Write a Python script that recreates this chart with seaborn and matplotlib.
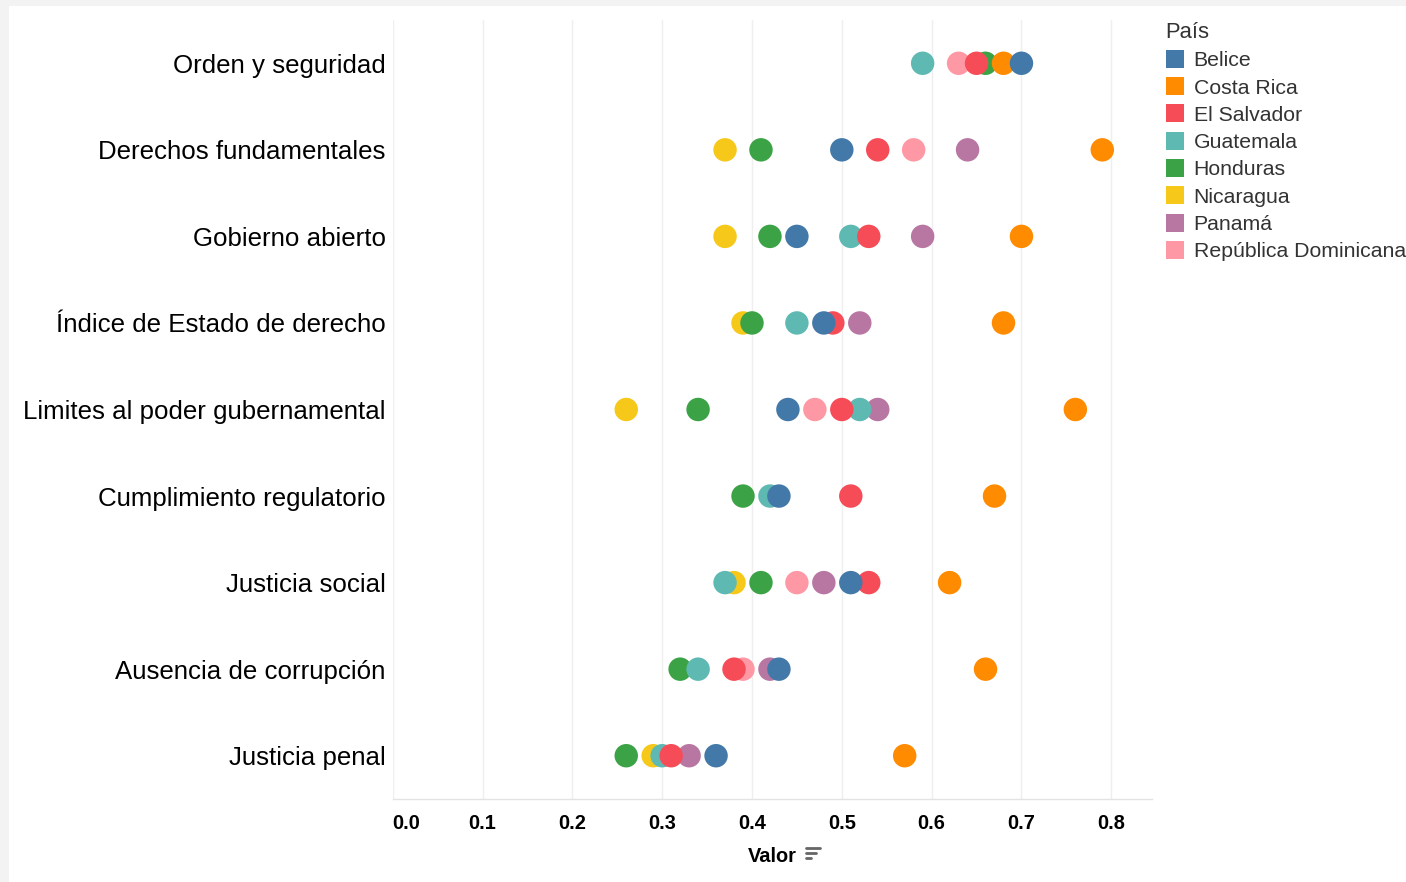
import pandas as pd
import numpy as np
import seaborn as sns
import matplotlib
matplotlib.use("Agg")
import matplotlib.pyplot as plt
from matplotlib.lines import Line2D
from matplotlib.patches import Rectangle

# categories, top to bottom
categorias = [
    "Orden y seguridad",
    "Derechos fundamentales",
    "Gobierno abierto",
    "Índice de Estado de derecho",
    "Limites al poder gubernamental",
    "Cumplimiento regulatorio",
    "Justicia social",
    "Ausencia de corrupción",
    "Justicia penal",
]

# values per country, same order as categorias (nan = not visible)
nan = np.nan
nicaragua = [nan, 0.37, 0.37, 0.39, 0.26, nan, 0.38, nan, 0.29]
rep_dominicana = [0.63, 0.58, nan, nan, 0.47, nan, 0.45, 0.39, nan]
honduras = [0.66, 0.41, 0.42, 0.40, 0.34, 0.39, 0.41, 0.32, 0.26]
panama = [nan, 0.64, 0.59, 0.52, 0.54, nan, 0.48, 0.42, 0.33]
guatemala = [0.59, nan, 0.51, 0.45, 0.52, 0.42, 0.37, 0.34, 0.30]
el_salvador = [0.65, 0.54, 0.53, 0.49, 0.50, 0.51, 0.53, 0.38, 0.31]
costa_rica = [0.68, 0.79, 0.70, 0.68, 0.76, 0.67, 0.62, 0.66, 0.57]
belice = [0.70, 0.50, 0.45, 0.48, 0.44, 0.43, 0.51, 0.43, 0.36]

# drawing order (later ones sit on top)
series = {
    "Nicaragua": nicaragua,
    "República Dominicana": rep_dominicana,
    "Honduras": honduras,
    "Panamá": panama,
    "Guatemala": guatemala,
    "El Salvador": el_salvador,
    "Costa Rica": costa_rica,
    "Belice": belice,
}

paises = ["Belice", "Costa Rica", "El Salvador", "Guatemala",
          "Honduras", "Nicaragua", "Panamá", "República Dominicana"]
colores = ["#4279a8", "#ff8b00", "#f54c58", "#5fb9b3",
           "#3ba345", "#f5c81a", "#b877a2", "#ff98a5"]
palette = dict(zip(paises, colores))

rows = []
for pais, vals in series.items():
    for cat, v in zip(categorias, vals):
        rows.append({"País": pais, "Categoría": cat, "Valor": v})
df = pd.DataFrame(rows).dropna()
df["Categoría"] = pd.Categorical(df["Categoría"], categories=categorias)

sns.set_style("white")
plt.rcParams["font.family"] = ["Liberation Sans", "DejaVu Sans"]

fig = plt.figure(figsize=(14.06, 8.82), dpi=100)
fig.patch.set_facecolor("#f3f3f3")
fig.add_artist(Rectangle((9 / 1406, 0), 1, 1 - 6 / 882, transform=fig.transFigure,
                         facecolor="white", edgecolor="none", zorder=0))

ax = fig.add_axes([392.7 / 1406, 83 / 882, 759 / 1406, 779 / 882])
ax.set_facecolor("none")

sns.scatterplot(
    ax=ax,
    data=df,
    x="Valor",
    y="Categoría",
    hue="País",
    hue_order=paises,
    palette=palette,
    s=285,
    linewidth=0,
    alpha=1,
    legend=False,
    zorder=3,
)

ax.set_xlim(0, 0.845)
ax.set_ylim(len(categorias) - 0.5, -0.5)
ticks = np.arange(0, 0.81, 0.1)
ax.set_xticks(ticks)
ax.set_xticklabels([f"{t:.1f}" for t in ticks],
                   fontsize=14.4, fontweight="bold", color="black")
ax.get_xticklabels()[0].set_horizontalalignment("left")
ax.set_yticks(range(len(categorias)))
ax.set_yticklabels(categorias, fontsize=18.6, color="black")
ax.tick_params(axis="y", length=0, pad=5)
ax.tick_params(axis="x", length=6, width=1, color="#e0e0e0", pad=5)

ax.grid(True, axis="x", color="#efefef", linewidth=1)
ax.grid(False, axis="y")
ax.set_axisbelow(True)
for side in ["top", "right", "left"]:
    ax.spines[side].set_visible(False)
ax.spines["bottom"].set_color("#e3e3e3")
ax.spines["bottom"].set_linewidth(1)

ax.set_ylabel("")
ax.set_xlabel("Valor", fontsize=14.4, fontweight="bold", labelpad=10, color="black")

# little sort icon next to the axis title
for i, w in enumerate([14, 10, 5]):
    y = 1 - (848 + i * 5) / 882
    fig.add_artist(Line2D([806 / 1406, (806 + w) / 1406], [y, y],
                          transform=fig.transFigure, color="#666666", linewidth=2))

handles = [Line2D([], [], marker="s", linestyle="", markersize=13,
                  markerfacecolor=palette[p], markeredgewidth=0) for p in paises]
leg = fig.legend(handles, paises, title="País", loc="upper left",
                 bbox_to_anchor=(1165 / 1406, 1 - 22 / 882), frameon=False,
                 fontsize=15.3, title_fontsize=15.8, alignment="left",
                 handlelength=0.9, handletextpad=0.45, labelspacing=0.39,
                 borderaxespad=0, borderpad=0)
for t in leg.get_texts():
    t.set_color("#333333")
leg.get_title().set_color("#333333")

plt.savefig("out.png", dpi=100, facecolor=fig.get_facecolor())
